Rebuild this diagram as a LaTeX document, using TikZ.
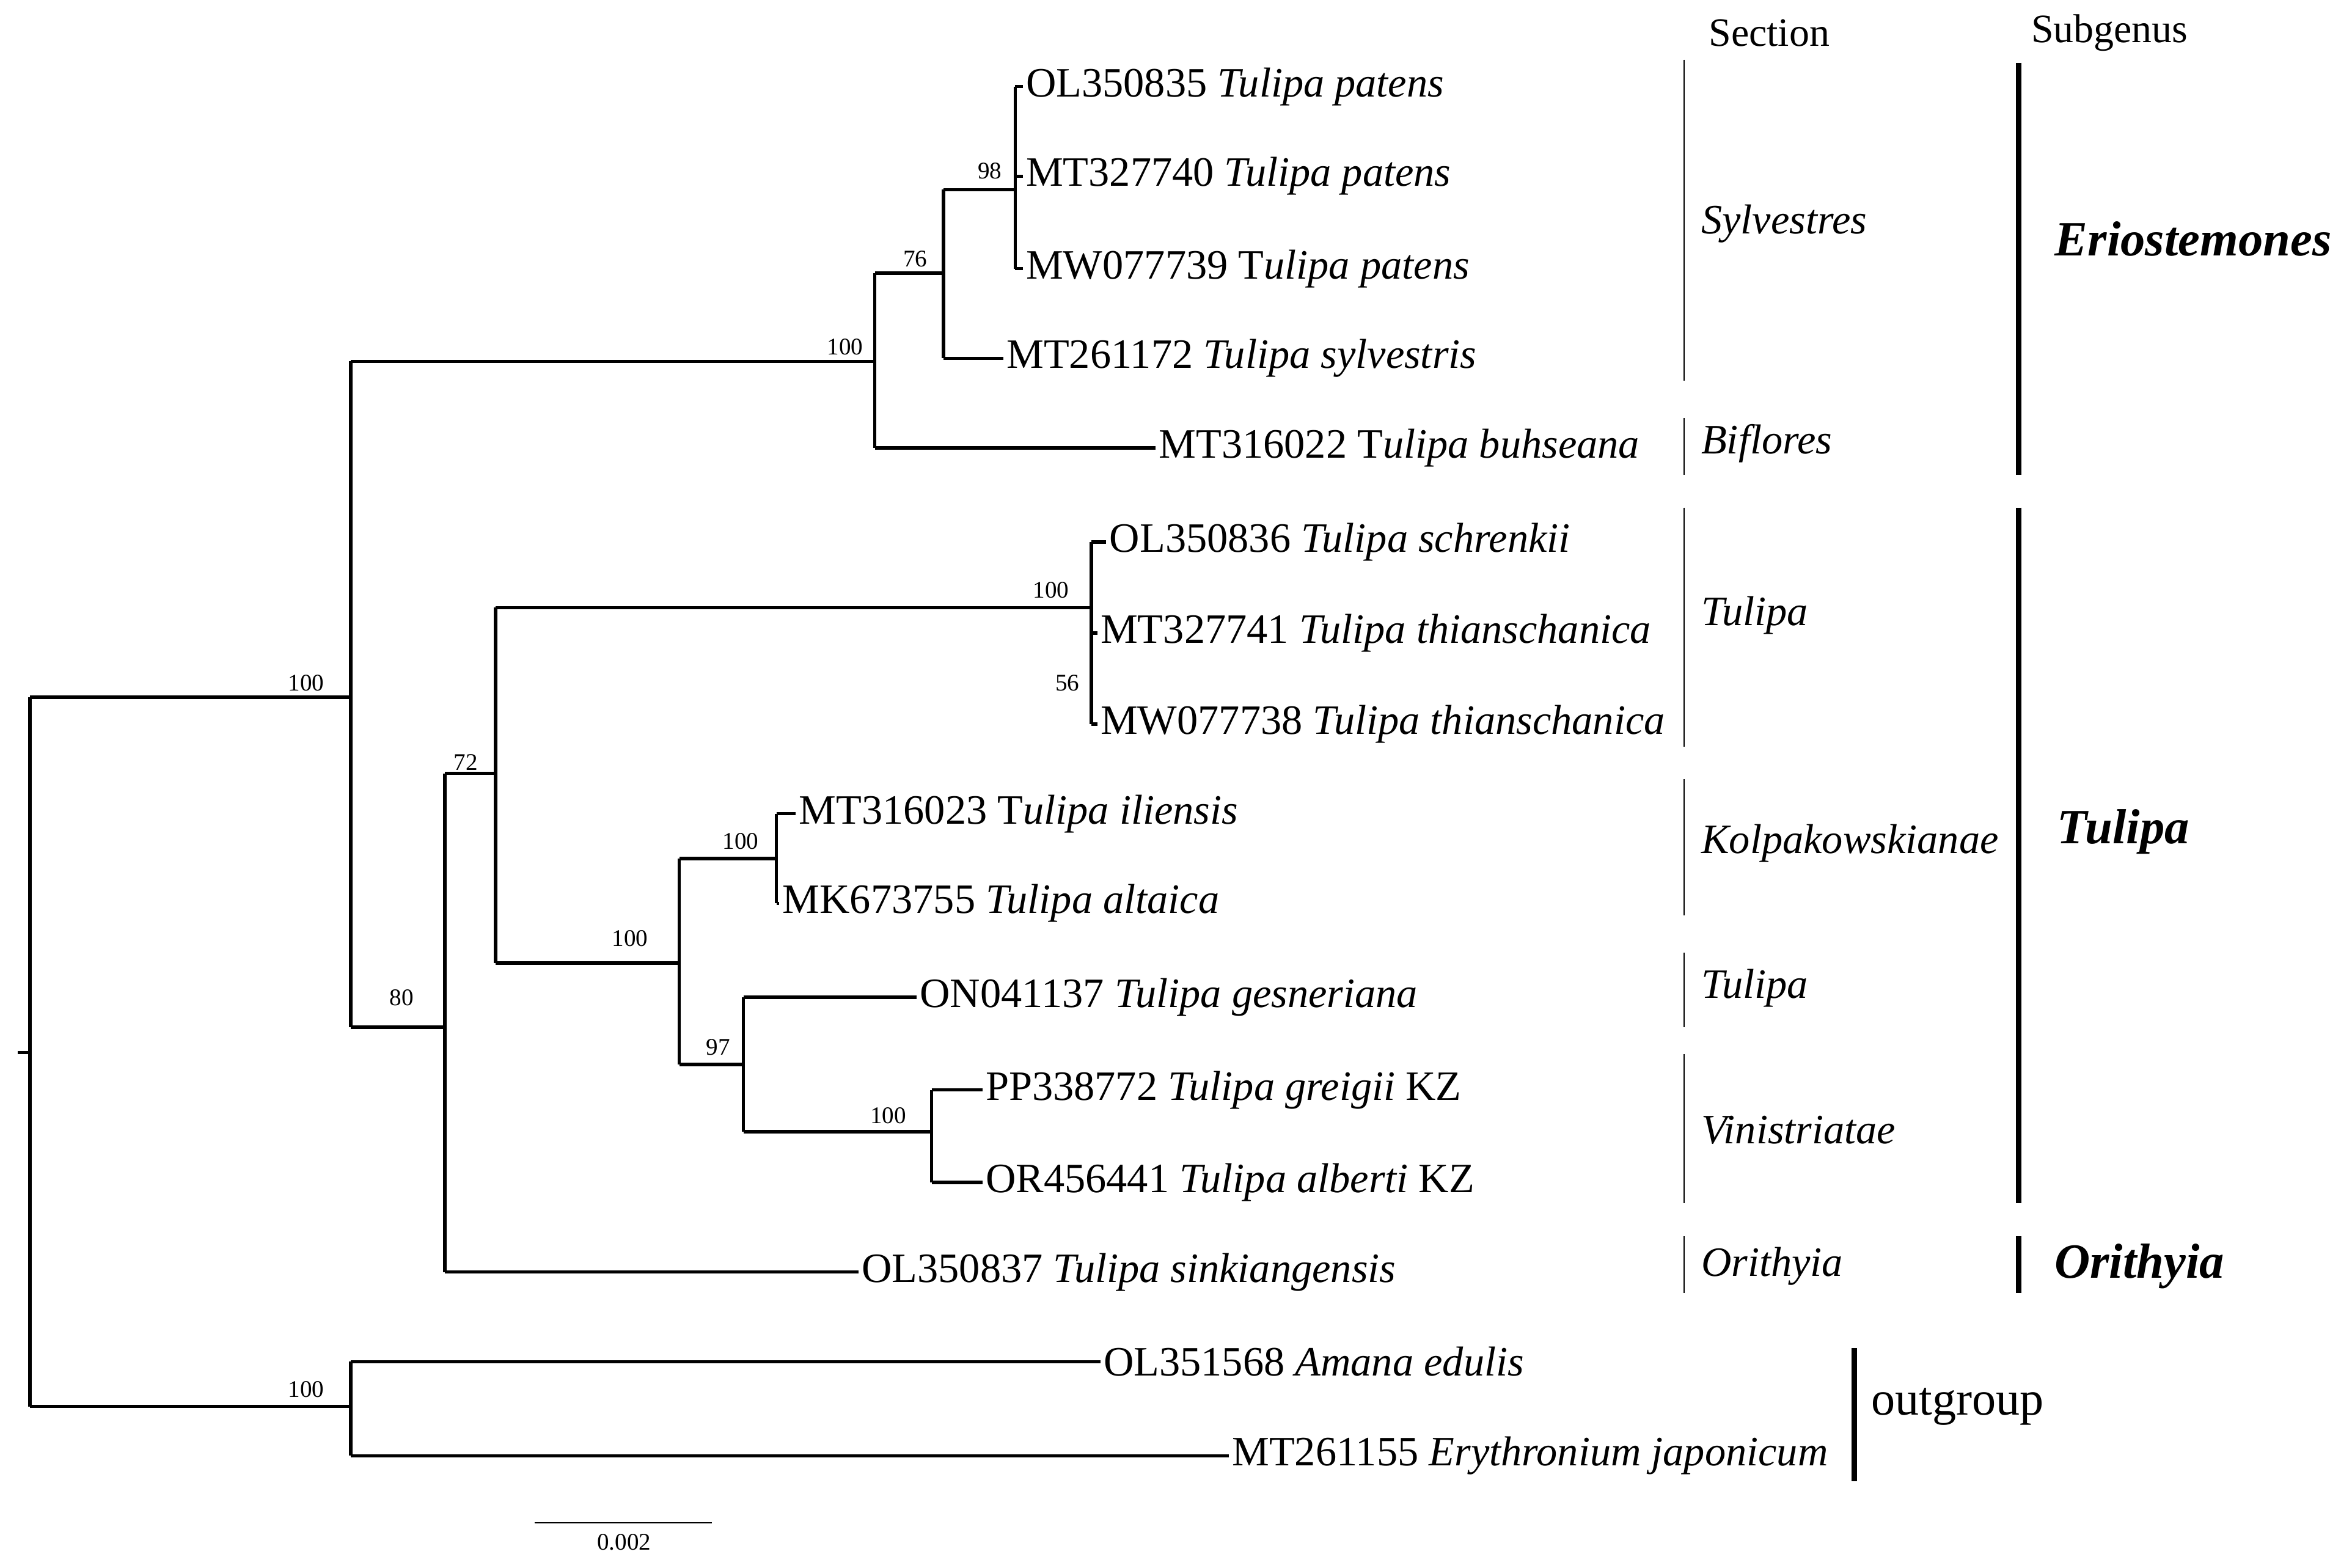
\documentclass[tikz,border=0pt]{standalone}
\usepackage{fontspec}
\setmainfont{Liberation Serif}
\begin{document}
\begin{tikzpicture}[x=1pt,y=-1pt,
  br/.style={line width=2.2pt},
  leaf/.style={anchor=west,font=\fontsize{28}{30}\selectfont,inner sep=2pt},
  bs/.style={font=\fontsize{16}{17}\selectfont,anchor=south,inner sep=2pt},
  sec/.style={anchor=west,font=\fontsize{28}{30}\selectfont\itshape},
  secl/.style={line width=0.8pt},
  subl/.style={line width=3.5pt},
  sub/.style={anchor=center,font=\fontsize{33}{35}\selectfont\bfseries\itshape}]
\useasboundingbox[fill=white] (0,0) rectangle (1568,1050);
% internal nodes
\coordinate (r) at (20,705); \coordinate (r0) at (12,705);
\coordinate (rA) at (20,467); \coordinate (rB) at (20,942);
\coordinate (ing) at (235,467);
\coordinate (ingT) at (235,242); \coordinate (ingB) at (235,688);
\coordinate (er) at (586,242); \coordinate (erT) at (586,183); \coordinate (erB) at (586,300);
\coordinate (n76) at (632,183); \coordinate (n76T) at (632,127); \coordinate (n76B) at (632,240);
\coordinate (n98) at (680,127); \coordinate (n98T) at (680,58); \coordinate (n98B) at (680,180);
\coordinate (n98M) at (680,118);
\coordinate (n80) at (298,688); \coordinate (n80T) at (298,518); \coordinate (n80B) at (298,852);
\coordinate (n72) at (332,518); \coordinate (n72T) at (332,407); \coordinate (n72B) at (332,645);
\coordinate (ns) at (731,407); \coordinate (nsT) at (731,363); \coordinate (nsB) at (731,485); \coordinate (nsM) at (731,424);
\coordinate (nk) at (455,645); \coordinate (nkT) at (455,575); \coordinate (nkB) at (455,713);
\coordinate (ni) at (520,575); \coordinate (niT) at (520,545); \coordinate (niB) at (520,605);
\coordinate (n97) at (498,713); \coordinate (n97T) at (498,668); \coordinate (n97B) at (498,758);
\coordinate (ng) at (624,758); \coordinate (ngT) at (624,730); \coordinate (ngB) at (624,792);
\coordinate (og) at (235,942); \coordinate (ogT) at (235,912); \coordinate (ogB) at (235,975);
% leaves
\node[leaf] (l1) at (685,58) {OL350835 \textit{Tulipa patens}};
\node[leaf] (l2) at (685,118) {MT327740 \textit{Tulipa patens}};
\node[leaf] (l3) at (685,180) {MW077739 T\textit{ulipa patens}};
\node[leaf] (l4) at (672,240) {MT261172 \textit{Tulipa sylvestris}};
\node[leaf] (l5) at (774,300) {MT316022 T\textit{ulipa buhseana}};
\node[leaf] (l6) at (741,363) {OL350836 \textit{Tulipa schrenkii}};
\node[leaf] (l7) at (735,424) {MT327741 \textit{Tulipa thianschanica}};
\node[leaf] (l8) at (735,485) {MW077738 \textit{Tulipa thianschanica}};
\node[leaf] (l9) at (533,545) {MT316023 T\textit{ulipa iliensis}};
\node[leaf] (l10) at (522,605) {MK673755 \textit{Tulipa altaica}};
\node[leaf] (l11) at (614,668) {ON041137 \textit{Tulipa gesneriana}};
\node[leaf] (l12) at (658,730) {PP338772 \textit{Tulipa greigii} KZ};
\node[leaf] (l13) at (658,792) {OR456441 \textit{Tulipa alberti} KZ};
\node[leaf] (l14) at (575,852) {OL350837 \textit{Tulipa sinkiangensis}};
\node[leaf] (l15) at (737,912) {OL351568 \textit{Amana edulis}};
\node[leaf] (l16) at (823,975) {MT261155 \textit{Erythronium japonicum}};
% branches
\draw[br] (r0)--(r); \draw[br] (rA)--(rB);
\draw[br] (rA)--(ing); \draw[br] (ingT)--(ingB);
\draw[br] (ingT)--(er); \draw[br] (erT)--(erB);
\draw[br] (erT)--(n76); \draw[br] (n76T)--(n76B);
\draw[br] (n76T)--(n98); \draw[br] (n98T)--(n98B);
\draw[br] (n98T)--(l1.west); \draw[br] (n98M)--(l2.west); \draw[br] (n98B)--(l3.west);
\draw[br] (n76B)--(l4.west); \draw[br] (erB)--(l5.west);
\draw[br] (ingB)--(n80); \draw[br] (n80T)--(n80B);
\draw[br] (n80T)--(n72); \draw[br] (n72T)--(n72B);
\draw[br] (n72T)--(ns); \draw[br] (nsT)--(nsB);
\draw[br] (nsT)--(l6.west); \draw[br] (nsM)--(l7.west); \draw[br] (nsB)--(l8.west);
\draw[br] (n72B)--(nk); \draw[br] (nkT)--(nkB);
\draw[br] (nkT)--(ni); \draw[br] (niT)--(niB);
\draw[br] (niT)--(l9.west); \draw[br] (niB)--(l10.west);
\draw[br] (nkB)--(n97); \draw[br] (n97T)--(n97B);
\draw[br] (n97T)--(l11.west);
\draw[br] (n97B)--(ng); \draw[br] (ngT)--(ngB);
\draw[br] (ngT)--(l12.west); \draw[br] (ngB)--(l13.west);
\draw[br] (n80B)--(l14.west);
\draw[br] (rB)--(og); \draw[br] (ogT)--(ogB);
\draw[br] (ogT)--(l15.west); \draw[br] (ogB)--(l16.west);
% bootstrap
\node[bs] (b1) at (205,465) {100};
\node[bs] (b2) at (566,240) {100};
\node[bs] (b3) at (613,181) {76};
\node[bs] (b4) at (663,122) {98};
\node[bs] (b5) at (269,676) {80};
\node[bs] (b6) at (312,518) {72};
\node[bs] (b7) at (704,403) {100};
\node[bs] (b8) at (715,465) {56};
\node[bs] (b9) at (422,636) {100};
\node[bs] (b10) at (496,571) {100};
\node[bs] (b11) at (481,709) {97};
\node[bs] (b12) at (595,755) {100};
\node[bs] (b13) at (205,938) {100};
% scale bar
\coordinate (s1) at (358,1020); \coordinate (s2) at (477,1020);
\draw[line width=1pt] (s1)--(s2);
\node[font=\fontsize{16}{17}\selectfont] (sl) at (418,1033) {0.002};
% sections
\node[font=\fontsize{27}{29}\selectfont] (hs) at (1185,22) {Section};
\node[font=\fontsize{27}{29}\selectfont] (hg) at (1413,22) {Subgenus};
\foreach \a/\b/\y/\t in {40/255/150/Sylvestres,280/318/297/Biflores,340/500/412/Tulipa,522/613/565/Kolpakowskianae,638/688/662/Tulipa,706/806/757/Vinistriatae,828/866/848/Orithyia}{
  \draw[secl] (1128,\a)--(1128,\b);
  \node[sec] at (1136,\y) {\t};
}
\draw[subl] (1352,42)--(1352,318);
\draw[subl] (1352,340)--(1352,806);
\draw[subl] (1352,828)--(1352,866);
\node[sub] (g1) at (1469,160) {Eriostemones};
\node[sub] (g2) at (1422,557) {Tulipa};
\node[sub] (g3) at (1433,848) {Orithyia};
\draw[subl] (1242,903)--(1242,992);
\node[anchor=west,font=\fontsize{32}{34}\selectfont] (out) at (1250,942) {outgroup};
\end{tikzpicture}
\end{document}
